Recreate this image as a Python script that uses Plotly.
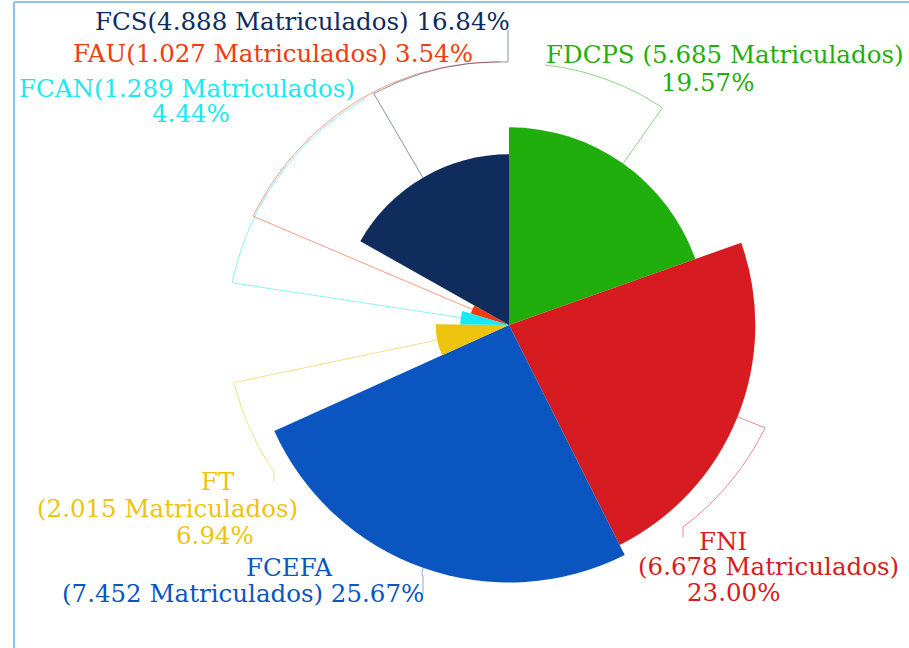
import math
import plotly.graph_objects as go

# ---------------- data ----------------
names = ["FDCPS", "FNI", "FCEFA", "FT", "FCAN", "FAU", "FCS"]
values = [5685, 6678, 7452, 2015, 1289, 1027, 4888]
value_text = ["5.685", "6.678", "7.452", "2.015", "1.289", "1.027", "4.888"]
percent_text = ["19.57%", "23.00%", "25.67%", "6.94%", "4.44%", "3.54%", "16.84%"]

# ---------------- styles / layout ----------------
colors = ["#1FAE0B", "#D71C21", "#0B55C1", "#EDC30E", "#1AE8F2", "#F03B0E", "#0F2C5C"]
label_formats = {
    "FDCPS": "{n} ({v} Matriculados)\n{p}",
    "FNI": "{n}\n({v} Matriculados)\n{p}",
    "FCEFA": "{n}\n({v} Matriculados) {p}",
    "FT": "{n}\n({v} Matriculados)\n{p}",
    "FCAN": "{n}({v} Matriculados)\n{p}",
    "FAU": "{n}({v} Matriculados) {p}",
    "FCS": "{n}({v} Matriculados) {p}",
}
# centre of each text line (px)
label_lines_pos = {
    "FDCPS": [(725, 54), (707, 82)],
    "FNI": [(723, 541), (768, 566), (733, 592)],
    "FCEFA": [(289, 567), (243, 593)],
    "FT": [(218, 481), (167, 508), (215, 535)],
    "FCAN": [(187, 88), (191, 113)],
    "FAU": [(273, 53)],
    "FCS": [(302, 21)],
}
# label-line geometry: radius of the elbow (px), end of curve, optional tail
label_line_geom = {
    "FDCPS": dict(rb=266, c=(545, 65), d=None),
    "FNI": dict(rb=276, c=(683, 527), d=(683, 537)),
    "FCEFA": dict(rb=262, c=(423, 577), d=(423, 594)),
    "FT": dict(rb=281, c=(274, 472), d=(274, 481)),
    "FCAN": dict(rb=280, c=(365, 99), d=None),
    "FAU": dict(rb=278, c=(500, 62), d=None),
    "FCS": dict(rb=268, c=(508, 62), d=(508, 30)),
}
emphasis_name = "FNI"
EMPH_PX = 15

W, H = 909, 648
CX, CY = 509, 325          # pie centre in px
PX_PER_UNIT = 0.03388      # radial scale
R_OFFSET = 150             # value units added at the centre
R_PX = 290                 # polar subplot radius in px
RMAX = R_PX / PX_PER_UNIT
FONT = "DejaVu Serif"
FSIZE = 24.5
LINE_BOX_H = 25

total = sum(values)
spans = [v / total * 360 for v in values]
mids = []
acc = 0
for s in spans:
    mids.append(acc + s / 2)
    acc += s

r_plot = []
for n, v in zip(names, values):
    extra = EMPH_PX / PX_PER_UNIT if n == emphasis_name else 0
    r_plot.append(v + R_OFFSET + extra)

fig = go.Figure()
fig.add_trace(go.Barpolar(
    r=r_plot, theta=mids, width=spans,
    marker=dict(color=colors, line=dict(width=0)),
    hoverinfo="skip", showlegend=False, subplot="polar",
))


def px_point(radius, compass_deg):
    a = math.radians(90 - compass_deg)
    return CX + radius * math.cos(a), CY - radius * math.sin(a)


def to_polar(pt):
    dx, dy = pt[0] - CX, CY - pt[1]
    return math.hypot(dx, dy), math.degrees(math.atan2(dy, dx))


for i, n in enumerate(names):
    g = label_line_geom[n]
    r_sector = r_plot[i] * PX_PER_UNIT
    ax, ay = px_point(r_sector, mids[i])
    bx, by = px_point(g["rb"], mids[i])
    rb, ab = to_polar((bx, by))
    rc, ac = to_polar(g["c"])
    if ac - ab > 180:
        ac -= 360
    if ab - ac > 180:
        ac += 360
    xs, ys = [ax, bx], [ay, by]
    for k in range(1, 41):
        t = k / 40
        rr = rb + (rc - rb) * t
        aa = math.radians(ab + (ac - ab) * t)
        xs.append(CX + rr * math.cos(aa))
        ys.append(CY - rr * math.sin(aa))
    if g["d"]:
        xs.append(g["d"][0])
        ys.append(g["d"][1])
    fig.add_trace(go.Scatter(
        x=xs, y=ys, mode="lines", line=dict(color=colors[i], width=1),
        opacity=0.5, hoverinfo="skip", showlegend=False,
    ))

annotations = []
for i, n in enumerate(names):
    text = label_formats[n].format(n=n, v=value_text[i], p=percent_text[i])
    for line, (x, y) in zip(text.split("\n"), label_lines_pos[n]):
        annotations.append(dict(
            x=x, y=y, xref="x", yref="y", text=line, showarrow=False,
            xanchor="center", yanchor="middle", height=LINE_BOX_H,
            borderpad=0, valign="middle",
            font=dict(family=FONT, size=FSIZE, color=colors[i]),
        ))

fig.update_layout(
    width=W, height=H,
    margin=dict(l=0, r=0, t=0, b=0),
    paper_bgcolor="white", plot_bgcolor="rgba(0,0,0,0)",
    polar=dict(
        domain=dict(x=[(CX - R_PX) / W, (CX + R_PX) / W],
                    y=[(H - CY - R_PX) / H, (H - CY + R_PX) / H]),
        bgcolor="rgba(0,0,0,0)",
        angularaxis=dict(rotation=90, direction="clockwise", visible=False,
                         showgrid=False, showline=False, ticks=""),
        radialaxis=dict(range=[0, RMAX], visible=False, showgrid=False,
                        showline=False, ticks=""),
    ),
    xaxis=dict(range=[0, W], visible=False, fixedrange=True, domain=[0, 1]),
    yaxis=dict(range=[H, 0], visible=False, fixedrange=True, domain=[0, 1]),
    annotations=annotations,
    shapes=[
        dict(type="line", xref="x", yref="y", x0=14, y0=2, x1=W, y1=2,
             line=dict(color="#8DC2E4", width=2)),
        dict(type="line", xref="x", yref="y", x0=14, y0=2, x1=14, y1=H,
             line=dict(color="#8DC2E4", width=2)),
    ],
)

fig.write_html(
    "out.html",
    config={"displayModeBar": False},
    post_script="document.body.style.margin='0';document.body.style.overflow='hidden';",
)
